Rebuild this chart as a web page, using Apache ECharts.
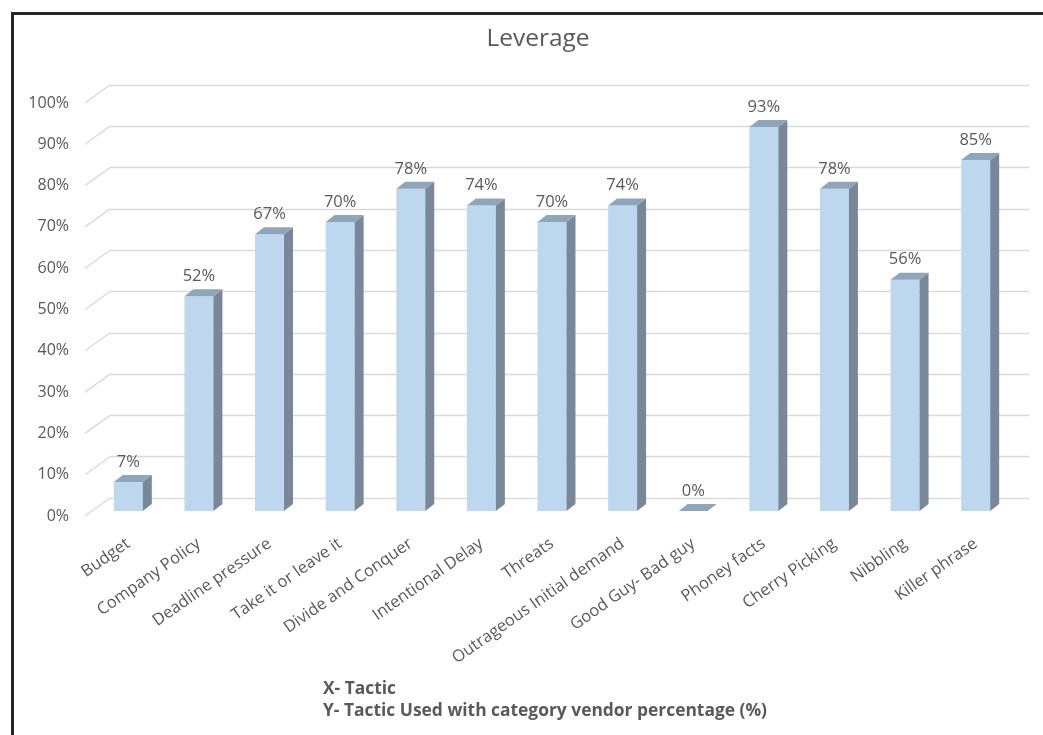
<!DOCTYPE html>
<html>
<head>
<meta charset="utf-8">
<script src="https://cdn.jsdelivr.net/npm/echarts@6/dist/echarts.min.js"></script>
<style>
  html, body { margin: 0; padding: 0; background: #fff; }
  #chart { width: 1043px; height: 735px; }
</style>
</head>
<body>
<div id="chart"></div>
<script>
// Tactics and the share of vendors that used each one (%)
const categories = [
  'Budget', 'Company Policy', 'Deadline pressure', 'Take it or leave it',
  'Divide and Conquer', 'Intentional Delay', 'Threats', 'Outrageous Initial demand',
  'Good Guy- Bad guy', 'Phoney facts', 'Cherry Picking', 'Nibbling', 'Killer phrase'
];
const values = [7, 52, 67, 70, 78, 74, 70, 74, 0, 93, 78, 56, 85];
const yTicks = [0, 10, 20, 30, 40, 50, 60, 70, 80, 90, 100];

const FONT = '"Open Sans", "Noto Sans", sans-serif';
const TEXT = '#595959';
const GRID_LINE = '#d9d9d9';

// Depth of the box faces, in pixels
const DEPTH_X = 9, DEPTH_Y = -7;
// Depth of the floor between the front labels and the back wall
const WALL_X = 25, WALL_Y = -18;

const FRONT = '#bdd7ee';
const SIDE = '#788898';
const TOP = '#8fa5ba';

function renderBox(params, api) {
  const i = api.value(0);
  const v = api.value(1);
  const base = api.coord([i, 0]);
  const top = api.coord([i, v]);
  const w = api.size([1, 0])[0] * 0.41;
  const x0 = base[0] - w / 2, x1 = base[0] + w / 2;
  const yb = base[1], yt = top[1];
  const children = [];
  if (v > 0) {
    children.push({
      type: 'rect',
      shape: { x: x0, y: yt, width: w, height: yb - yt },
      style: { fill: FRONT }
    });
    children.push({
      type: 'polygon',
      shape: { points: [[x1, yb], [x1, yt], [x1 + DEPTH_X, yt + DEPTH_Y], [x1 + DEPTH_X, yb + DEPTH_Y]] },
      style: { fill: SIDE }
    });
  }
  children.push({
    type: 'polygon',
    shape: { points: [[x0, yt], [x1, yt], [x1 + DEPTH_X, yt + DEPTH_Y], [x0 + DEPTH_X, yt + DEPTH_Y]] },
    style: { fill: TOP }
  });
  children.push({
    type: 'text',
    style: {
      x: base[0], y: yt - 20,
      text: v + '%',
      fill: TEXT, font: '16.5px ' + FONT,
      align: 'center', verticalAlign: 'middle'
    }
  });
  return { type: 'group', children: children };
}

function renderSlant(params, api) {
  const p = api.coord([0, api.value(0)]);
  return {
    type: 'line',
    shape: { x1: p[0], y1: p[1], x2: p[0] + WALL_X, y2: p[1] + WALL_Y },
    style: { stroke: GRID_LINE, lineWidth: 1.3 }
  };
}

const chart = echarts.init(document.getElementById('chart'), null, { renderer: 'canvas' });

chart.setOption({
  animation: false,
  backgroundColor: '#fff',
  title: {
    text: 'Leverage',
    left: 533, top: 22,
    textAlign: 'center',
    textStyle: { fontFamily: FONT, fontSize: 24.5, fontWeight: 'normal', color: TEXT }
  },
  grid: [
    // back wall
    { left: 110, right: 14, top: 85, height: 413 },
    // front edge of the floor, carries the percentage labels
    { left: 85, width: 25, top: 103, height: 413 },
    // front plane of the boxes
    { left: 93, right: 32, top: 98, height: 413 }
  ],
  xAxis: [
    { gridIndex: 0, type: 'value', min: 0, max: 1, show: false },
    { gridIndex: 1, type: 'value', min: 0, max: 1, show: false },
    {
      gridIndex: 2, type: 'category', data: categories,
      axisLine: { show: false }, axisTick: { show: false },
      axisLabel: {
        interval: 0, rotate: 35, margin: 31,
        color: TEXT, fontFamily: FONT, fontSize: 16.5
      }
    }
  ],
  yAxis: [
    {
      gridIndex: 0, type: 'value', min: 0, max: 100, interval: 10,
      axisLine: { show: false }, axisTick: { show: false }, axisLabel: { show: false },
      splitLine: { show: true, lineStyle: { color: GRID_LINE, width: 1.3 } }
    },
    {
      gridIndex: 1, type: 'value', min: 0, max: 100, interval: 10,
      axisLine: { show: false }, axisTick: { show: false }, splitLine: { show: false },
      axisLabel: {
        margin: 16, color: TEXT, fontFamily: FONT, fontSize: 16,
        formatter: v => v + '%'
      }
    },
    { gridIndex: 2, type: 'value', min: 0, max: 100, show: false }
  ],
  series: [
    {
      type: 'custom', xAxisIndex: 1, yAxisIndex: 1,
      data: yTicks.map(t => [t]),
      encode: { y: 0 },
      renderItem: renderSlant, silent: true
    },
    {
      type: 'custom', xAxisIndex: 2, yAxisIndex: 2,
      data: values.map((v, i) => [i, v]),
      encode: { x: 0, y: 1 },
      renderItem: renderBox, silent: true
    }
  ],
  graphic: [
    {
      type: 'text', x: 323, y: 689,
      style: { text: 'X- Tactic', fill: TEXT, font: 'bold 17.4px ' + FONT, verticalAlign: 'middle' }
    },
    {
      type: 'text', x: 323, y: 711,
      style: { text: 'Y- Tactic Used with category vendor percentage (%)', fill: TEXT, font: 'bold 17.4px ' + FONT, verticalAlign: 'middle' }
    },
    // frame along the top and left edges
    { type: 'rect', shape: { x: 11, y: 12, width: 1032, height: 3 }, style: { fill: '#262626' } },
    { type: 'rect', shape: { x: 11, y: 12, width: 3, height: 723 }, style: { fill: '#262626' } }
  ]
});
</script>
</body>
</html>
